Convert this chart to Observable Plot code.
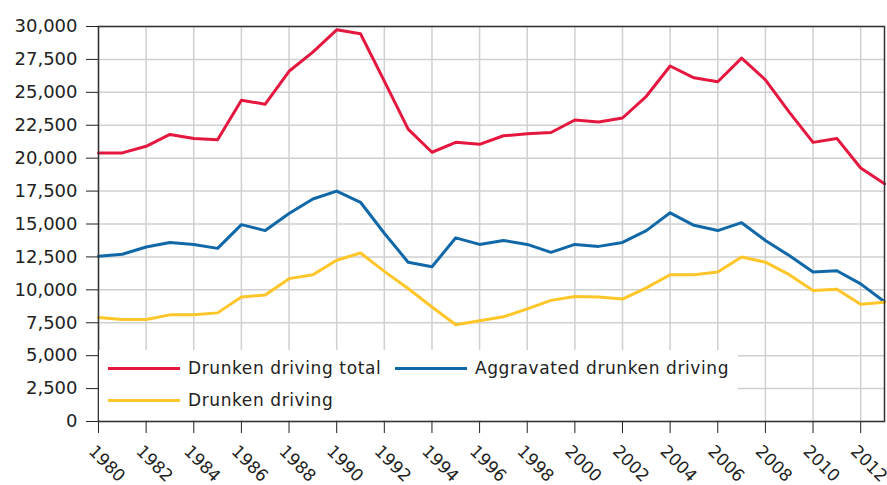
<!DOCTYPE html>
<html>
<head>
<meta charset="utf-8">
<script src="https://cdn.jsdelivr.net/npm/d3@7"></script>
<script src="https://cdn.jsdelivr.net/npm/@observablehq/plot@0.6"></script>
<style>
  html, body { margin: 0; padding: 0; background: #fff; }
  #wrap { position: relative; width: 887px; height: 485px; }
  #legend {
    position: absolute; left: 99px; top: 350px; width: 639px; height: 70px;
    background: #fff; box-sizing: border-box; padding: 2px 0 0 9px;
    display: grid; grid-template-columns: 287px auto; grid-auto-rows: 32px;
    font-family: "DejaVu Sans", sans-serif; font-size: 17px; color: #222; letter-spacing: 0.6px;
  }
  #legend .item { display: flex; align-items: center; white-space: nowrap; }
  #legend .swatch { display: inline-block; width: 72px; height: 3px; margin-right: 8px; }
</style>
</head>
<body>
<div id="wrap"></div>
<script>
const years = [1980,1981,1982,1983,1984,1985,1986,1987,1988,1989,1990,1991,1992,1993,1994,1995,1996,1997,1998,1999,2000,2001,2002,2003,2004,2005,2006,2007,2008,2009,2010,2011,2012,2013];
const total = [20400,20400,20900,21800,21500,21400,24400,24100,26600,28050,29750,29450,25850,22200,20450,21200,21050,21700,21850,21950,22900,22750,23050,24700,27000,26100,25800,27600,25950,23500,21200,21500,19250,18050];
const aggravated = [12550,12700,13250,13600,13450,13150,14950,14500,15800,16900,17500,16650,14300,12100,11750,13950,13450,13750,13450,12850,13450,13300,13600,14500,15850,14900,14500,15100,13750,12600,11350,11450,10450,9100];
const drunken = [7900,7750,7750,8100,8100,8250,9450,9600,10850,11150,12250,12800,11400,10100,8700,7350,7650,7950,8550,9200,9500,9450,9300,10150,11150,11150,11350,12500,12100,11150,9950,10050,8900,9050];
const seriesNames = ["Drunken driving total", "Aggravated drunken driving", "Drunken driving"];
const seriesColors = ["#e5173f", "#1168a8", "#ffc629"];
const xTicks = [1980,1982,1984,1986,1988,1990,1992,1994,1996,1998,2000,2002,2004,2006,2008,2010,2012];
const yTicks = [0,2500,5000,7500,10000,12500,15000,17500,20000,22500,25000,27500,30000];

const seriesValues = [total, aggravated, drunken];
const data = [];
seriesNames.forEach((name, i) => {
  years.forEach((yr, j) => data.push({year: yr, value: seriesValues[i][j], series: name}));
});

const fmt = d3.format(",");
const chart = Plot.plot({
  width: 887,
  height: 485,
  marginLeft: 98,
  marginTop: 26,
  marginRight: 3,
  marginBottom: 64,
  style: {fontFamily: "DejaVu Sans, sans-serif", fontSize: "17px", color: "#222", background: "#fff"},
  x: {domain: [1980, 2013]},
  y: {domain: [0, 30000]},
  color: {domain: seriesNames, range: seriesColors},
  marks: [
    Plot.gridX(xTicks, {stroke: "#d0d0d0", strokeOpacity: 1, strokeWidth: 1.5}),
    Plot.gridY(yTicks, {stroke: "#d0d0d0", strokeOpacity: 1, strokeWidth: 1.5}),
    Plot.axisY(yTicks, {tickSize: 12, tickPadding: 9, tickFormat: d => fmt(d), label: null, stroke: "#222", fontSize: 18}),
    Plot.axisX(xTicks, {tickSize: 12, tickFormat: () => "", label: null, stroke: "#222"}),
    Plot.axisX(xTicks, {tickSize: 0, tickPadding: 16, tickRotate: 45, tickFormat: d => String(d), label: null, dx: -7, dy: 11}),
    Plot.lineY(data, {x: "year", y: "value", stroke: "series", strokeWidth: 3}),
    Plot.frame({stroke: "#333", strokeWidth: 1.5})
  ]
});
const wrap = document.getElementById("wrap");
wrap.appendChild(chart);

const legend = document.createElement("div");
legend.id = "legend";
seriesNames.forEach((name, i) => {
  const item = document.createElement("div");
  item.className = "item";
  const sw = document.createElement("span");
  sw.className = "swatch";
  sw.style.background = seriesColors[i];
  item.appendChild(sw);
  item.appendChild(document.createTextNode(name));
  legend.appendChild(item);
});
wrap.appendChild(legend);
</script>
</body>
</html>
